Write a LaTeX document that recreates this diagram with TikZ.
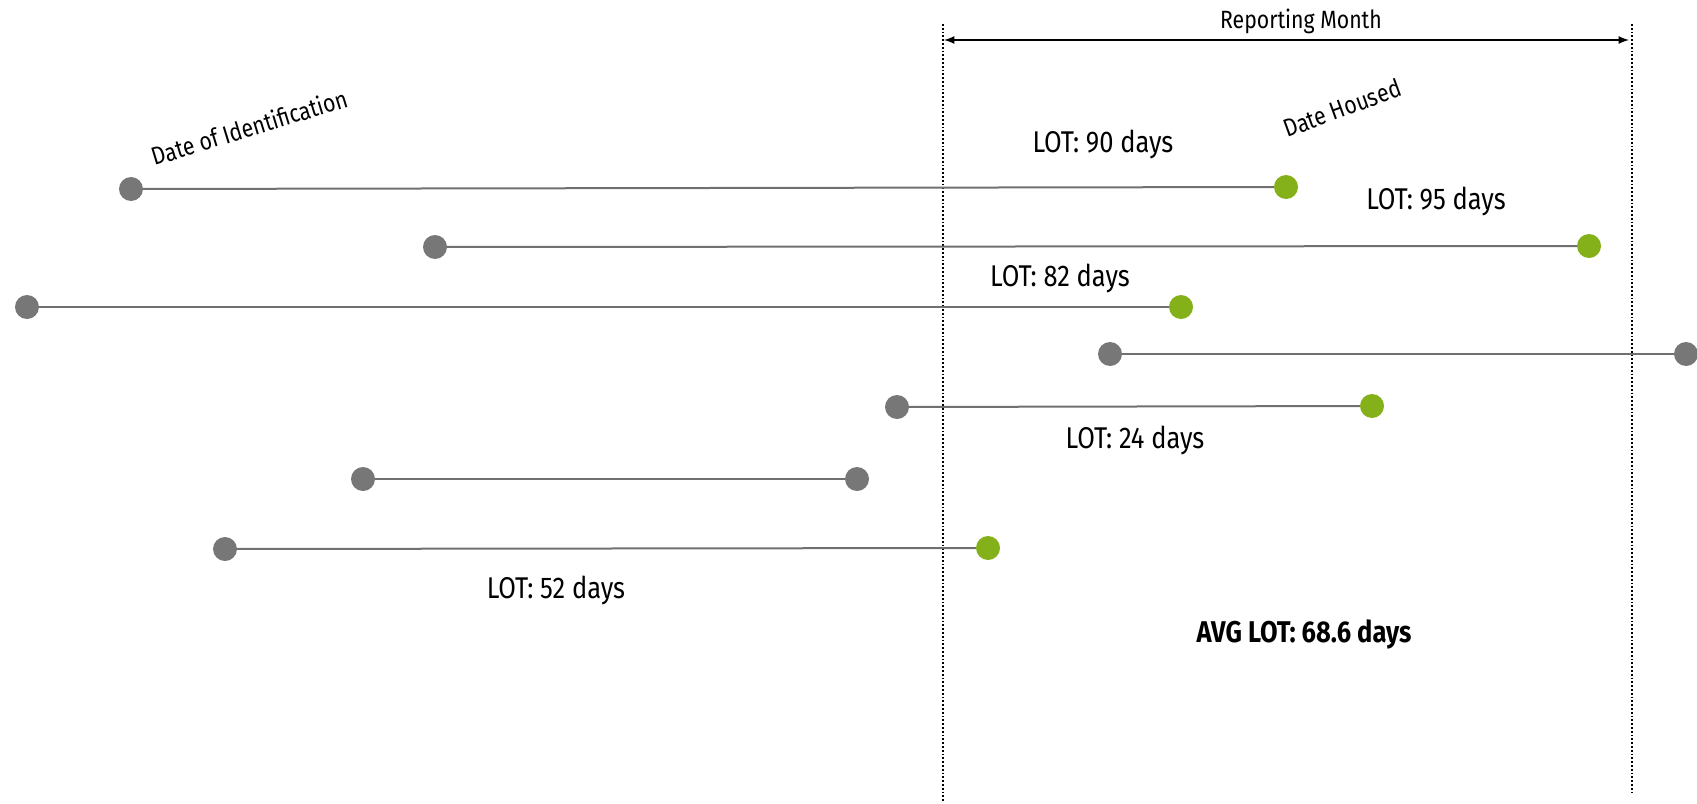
\documentclass[tikz,border=0pt]{standalone}
\usepackage{fontspec}
\setmainfont{Fira Sans}[FakeStretch=0.85]
\usetikzlibrary{arrows}
\definecolor{dotGrey}{HTML}{777777}
\definecolor{dotGreen}{HTML}{84B11A}
\definecolor{lineGrey}{HTML}{707070}

\begin{document}
\begin{tikzpicture}[x=1pt, y=-1pt,
    identDot/.style={circle,fill=dotGrey,inner sep=0pt,minimum size=24pt},
    housedDot/.style={circle,fill=dotGreen,inner sep=0pt,minimum size=24pt},
    span/.style={line width=2pt, color=lineGrey},
    lot/.style={font=\fontsize{30}{36}\selectfont},
    caption/.style={font=\fontsize{25}{30}\selectfont},
    monthEdge/.style={dotted, line width=1.8pt},
    monthArrow/.style={line width=2.5pt, latex-latex}
]
    \useasboundingbox (0, 0) rectangle (1697, 803);

    % reporting month
    \coordinate (edgeLTop) at (943, 24);
    \coordinate (edgeLBot) at (943, 801);
    \coordinate (edgeRTop) at (1632, 24);
    \coordinate (edgeRBot) at (1632, 795);
    \draw [monthEdge] (edgeLTop) -- (edgeLBot);
    \draw [monthEdge] (edgeRTop) -- (edgeRBot);

    \coordinate (arrowS) at (944, 40);
    \coordinate (arrowE) at (1629, 40);
    \draw [monthArrow] (arrowS) -- (arrowE);
    \node[caption] (month) at (1301, 21) {Reporting Month};

    \node[caption, rotate=17] (identLabel) at (249, 127) {Date of Identification};
    \node[caption, rotate=20] (housedLabel) at (1342, 108) {Date Housed};

    % 1
    \node[identDot] (a) at (131, 189) {};
    \node[housedDot] (aEnd) at (1286, 187) {};
    \draw [span] (a) -- (aEnd);
    \node[lot] (aLot) at (1103, 144) {LOT: 90 days};

    % 2
    \node[identDot] (b) at (435, 247) {};
    \node[housedDot] (bEnd) at (1589, 246) {};
    \draw [span] (b) -- (bEnd);
    \node[lot] (bLot) at (1436, 201) {LOT: 95 days};

    % 3
    \node[identDot] (c) at (27, 307) {};
    \node[housedDot] (cEnd) at (1181, 307) {};
    \draw [span] (c) -- (cEnd);
    \node[lot] (cLot) at (1060, 278) {LOT: 82 days};

    % 4
    \node[identDot] (d) at (1110, 354) {};
    \node[identDot] (dEnd) at (1686, 354) {};
    \draw [span] (d) -- (dEnd);

    % 5
    \node[identDot] (e) at (897, 407) {};
    \node[housedDot] (eEnd) at (1372, 406) {};
    \draw [span] (e) -- (eEnd);
    \node[lot] (eLot) at (1135, 440) {LOT: 24 days};

    % 6
    \node[identDot] (f) at (363, 479) {};
    \node[identDot] (fEnd) at (857, 479) {};
    \draw [span] (f) -- (fEnd);

    % 7
    \node[identDot] (g) at (225, 549) {};
    \node[housedDot] (gEnd) at (988, 548) {};
    \draw [span] (g) -- (gEnd);
    \node[lot] (gLot) at (556, 590) {LOT: 52 days};

    \node[lot, font=\fontsize{30}{36}\selectfont\bfseries] (avgLot) at (1304, 634) {AVG LOT: 68.6 days};
\end{tikzpicture}
\end{document}
